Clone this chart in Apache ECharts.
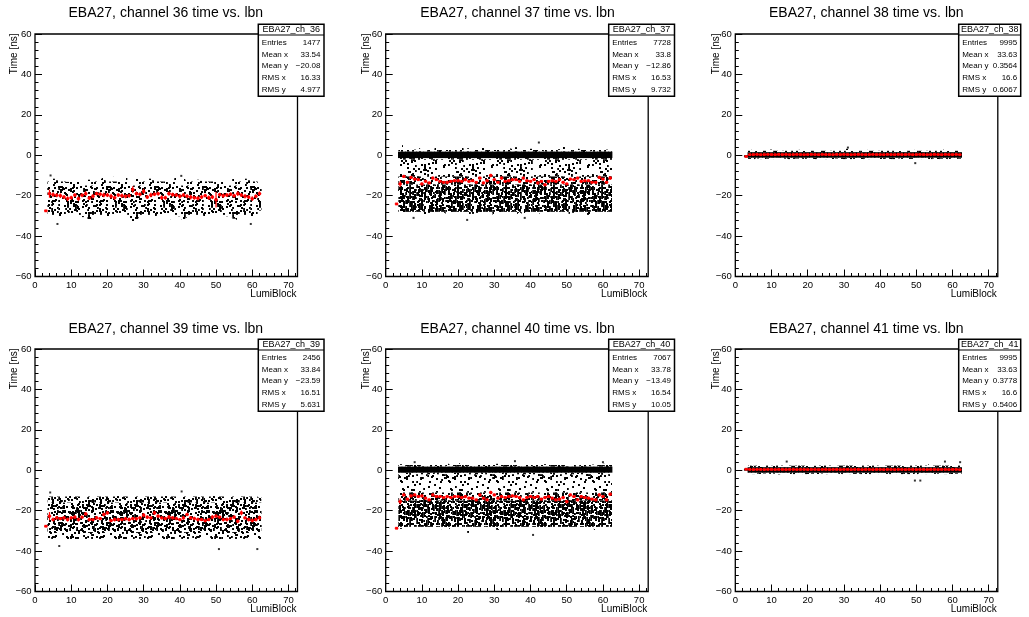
<!DOCTYPE html>
<html>
<head>
<meta charset="utf-8">
<script src="https://cdn.jsdelivr.net/npm/echarts@6.0.0/dist/echarts.min.js"></script>
<style>
  html, body { margin: 0; padding: 0; background: #fff; }
  #main { width: 1029px; height: 617px; }
</style>
</head>
<body>
<div id="main"></div>
<script>
// lumi blocks with entries
var lumiBlocks = [3, 4, 5, 6, 7, 8, 9, 10, 11, 12,
  13, 14, 15, 16, 17, 18, 19, 20, 21, 22,
  23, 24, 25, 26, 27, 28, 29, 30, 31, 32,
  33, 34, 35, 36, 37, 38, 39, 40, 41, 42,
  43, 44, 45, 46, 47, 48, 49, 50, 51, 52,
  53, 54, 55, 56, 57, 58, 59, 60, 61, 62];

var channels = [36, 37, 38, 39, 40, 41];

// ---- channel 36 ----
var ch36Mean = [-27.5, -19.0, -19.5, -19.8, -20.0, -20.7, -21.5, -21.0, -19.7, -21.5,
  -19.8, -19.0, -21.2, -20.3, -19.0, -19.3, -19.7, -19.7, -20.3, -21.0,
  -19.7, -20.0, -20.3, -20.0, -17.0, -19.0, -19.3, -17.9, -20.7, -19.7,
  -19.3, -19.0, -21.0, -21.0, -19.0, -19.5, -19.7, -20.3, -19.7, -20.3,
  -20.7, -21.0, -21.3, -20.7, -20.0, -21.0, -20.7, -22.0, -19.5, -20.0,
  -19.7, -19.3, -20.0, -19.0, -19.7, -20.3, -20.7, -21.5, -20.3, -19.0];
var ch36Err = [0, 2.0, 1.2, 1.0, 1.1, 1.0, 1.2, 1.0, 0.9, 1.1,
  1.0, 1.2, 1.0, 1.1, 0.9, 1.0, 1.1, 1.0, 1.2, 1.0,
  0.9, 1.1, 1.0, 1.0, 1.6, 1.1, 1.0, 1.3, 1.0, 1.1,
  0.9, 1.0, 1.2, 1.0, 1.1, 1.0, 0.9, 1.1, 1.0, 1.0,
  1.2, 1.0, 1.1, 1.0, 0.9, 1.1, 1.0, 3.8, 1.0, 1.1,
  1.0, 0.9, 1.0, 1.2, 1.0, 1.1, 1.0, 1.2, 1.0, 1.1];
var ch36Hi = [null, -9.9, -11.6, -12.4, -12.4, -11.6, -13.2, -11.1, -10.4, -12.4,
  -11.6, -12.7, -12.1, -11.1, -12.4, -11.6, -10.7, -12.7, -11.6, -10.7,
  -12.4, -11.6, -10.4, -12.7, -12.1, -11.1, -12.4, -10.4, -10.7, -11.6,
  -12.4, -11.1, -12.1, -11.6, -12.7, -11.6, -10.7, -9.9, -11.6, -12.4,
  -11.6, -10.7, -12.1, -12.7, -11.6, -12.4, -11.1, -12.1, -11.6, -12.4,
  -12.7, -11.6, -10.7, -10.4, -11.1, -11.6, -12.4, -10.7, -12.1, -14.9];
var ch36Lo = [null, -30.6, -33.1, -31.9, -30.6, -31.4, -31.9, -30.9, -29.8, -31.4,
  -30.6, -30.2, -31.9, -30.9, -30.6, -29.8, -30.9, -31.4, -32.6, -30.6,
  -30.2, -31.4, -30.6, -31.9, -33.1, -31.9, -30.9, -32.2, -32.7, -31.4,
  -30.6, -30.9, -30.2, -31.4, -30.9, -31.9, -30.6, -30.2, -31.9, -30.9,
  -30.6, -32.6, -31.4, -31.9, -30.9, -31.4, -30.6, -30.2, -31.4, -30.9,
  -30.2, -30.6, -31.4, -31.9, -30.9, -30.6, -33.9, -31.4, -29.8, -27.3];
var ch36Bands = [[-29.5, -13.0, 0.25], [-26.0, -15.0, 0.36]];   // [lo, hi, point density]
var ch36Out = [[4.3, -10.0], [6.2, -34.0], [40.4, -10.2], [59.6, -34.0]];

// ---- channel 37 ----
var ch37Mean = [-24.1, -14.2, -10.5, -13.4, -11.0, -11.8, -12.1, -14.2, -12.9, -13.7,
  -11.3, -12.1, -12.9, -13.4, -13.4, -12.9, -12.6, -12.6, -12.9, -12.1,
  -12.9, -12.6, -13.4, -11.3, -13.7, -12.6, -10.0, -12.1, -13.4, -11.3,
  -12.9, -12.6, -12.1, -12.1, -12.9, -11.3, -12.6, -12.9, -12.1, -13.7,
  -12.9, -14.6, -12.9, -12.6, -12.9, -12.1, -13.4, -14.2, -11.8, -12.1,
  -11.3, -12.9, -12.6, -12.6, -13.4, -13.4, -11.0, -11.8, -13.4, -11.3];
var ch37Err = [0, 1.5, 0.8, 0.7, 0.8, 0.7, 0.7, 0.8, 0.7, 0.7,
  0.8, 0.7, 0.7, 0.7, 0.8, 0.7, 0.7, 0.7, 0.7, 0.8,
  0.7, 0.7, 0.7, 0.8, 0.7, 0.7, 0.9, 0.7, 0.7, 0.8,
  0.7, 0.7, 0.7, 0.7, 0.8, 0.7, 0.7, 0.7, 0.7, 0.8,
  0.7, 0.8, 0.7, 0.7, 0.7, 0.7, 0.8, 0.7, 0.7, 0.7,
  0.7, 0.8, 0.7, 0.7, 0.7, 0.7, 0.8, 0.7, 0.7, 0.9];
var ch37Hi = [null, 3.5, 5.0, 3.0, 4.0, 2.8, 3.5, 3.0, 4.2, 3.2,
  2.8, 3.8, 3.0, 3.5, 2.8, 4.0, 3.2, 3.0, 3.8, 2.8,
  3.5, 4.5, 3.0, 3.2, 3.8, 2.8, 3.0, 4.0, 3.5, 3.0,
  2.8, 3.5, 3.2, 4.0, 3.0, 3.5, 2.8, 3.2, 3.0, 3.4,
  3.5, 3.0, 2.8, 3.8, 3.2, 3.0, 4.5, 3.0, 3.5, 2.8,
  3.2, 3.0, 3.8, 3.0, 2.8, 3.5, 3.2, 3.0, 2.8, 3.0];
var ch37Lo = [null, -28.5, -29.5, -28.0, -29.5, -29.0, -29.0, -28.0, -29.5, -28.5,
  -28.0, -29.0, -30.0, -28.5, -29.0, -28.0, -29.5, -28.5, -29.0, -28.5,
  -29.5, -29.0, -28.5, -29.5, -28.0, -29.0, -28.5, -29.5, -28.0, -29.0,
  -28.5, -29.0, -28.0, -29.5, -28.5, -29.0, -28.0, -29.0, -28.5, -29.0,
  -28.0, -29.5, -28.5, -29.0, -28.0, -28.5, -29.5, -28.0, -29.0, -28.5,
  -29.0, -28.0, -28.5, -29.5, -28.0, -29.0, -28.5, -28.0, -29.0, -28.5];
var ch37Bands = [[-28.0, -14.5, 0.9], [-14.5, -10.5, 0.45], [-10.5, -2.2, 0.16], [-2.2, -1.4, 0.45], [-1.4, 1.8, 1], [1.8, 2.6, 0.5]];
var ch37Out = [[42.3, 6.3], [7.7, -31.0], [22.5, -32.0], [38.4, -31.0]];

// ---- channel 38 ----
var ch38Mean = [-0.6, 0.3, 0.35, 0.4, 0.3, 0.35, 0.4, 0.35, 0.3, 0.4,
  0.35, 0.4, 0.3, 0.35, 0.4, 0.35, 0.3, 0.35, 0.4, 0.35,
  0.3, 0.4, 0.35, 0.35, 0.3, 0.4, 0.35, 0.4, 0.35, 0.3,
  0.35, 0.4, 0.35, 0.3, 0.35, 0.4, 0.35, 0.35, 0.3, 0.4,
  0.35, 0.3, 0.4, 0.35, 0.35, 0.4, 0.3, 0.35, 0.4, 0.35,
  0.3, 0.35, 0.4, 0.35, 0.3, 0.4, 0.35, 0.35, 0.4, 0.3];
var ch38Err = [0, 0.1, 0.1, 0.1, 0.1, 0.1, 0.1, 0.1, 0.1, 0.1,
  0.1, 0.1, 0.1, 0.1, 0.1, 0.1, 0.1, 0.1, 0.1, 0.1,
  0.1, 0.1, 0.1, 0.1, 0.1, 0.1, 0.1, 0.1, 0.1, 0.1,
  0.1, 0.1, 0.1, 0.1, 0.1, 0.1, 0.1, 0.1, 0.1, 0.1,
  0.1, 0.1, 0.1, 0.1, 0.1, 0.1, 0.1, 0.1, 0.1, 0.1,
  0.1, 0.1, 0.1, 0.1, 0.1, 0.1, 0.1, 0.1, 0.1, 0.1];
var ch38Hi = [0.0, 2.2, 2.8, 2.5, 2.2, 2.6, 2.3, 2.8, 2.4, 2.2,
  2.6, 2.9, 2.3, 2.5, 2.2, 2.7, 2.4, 2.3, 2.8, 2.5,
  2.2, 2.6, 2.4, 2.3, 2.5, 2.8, 2.2, 3.0, 3.2, 2.6,
  2.4, 2.3, 2.5, 2.2, 2.7, 2.4, 2.3, 2.6, 2.5, 2.2,
  2.8, 2.4, 2.3, 2.6, 2.5, 2.3, 2.7, 2.4, 2.2, 2.6,
  2.5, 2.3, 2.8, 2.4, 2.2, 2.9, 2.5, 2.6, 2.4, 3.0];
var ch38Lo = [-1.0, -1.8, -2.0, -1.6, -1.9, -2.2, -1.7, -1.8, -2.0, -1.6,
  -1.9, -1.7, -2.1, -1.8, -1.6, -2.0, -1.8, -1.7, -2.2, -1.9,
  -1.6, -1.8, -2.0, -1.7, -1.9, -1.6, -1.8, -2.1, -1.7, -1.9,
  -1.8, -1.6, -2.0, -1.7, -1.9, -1.8, -1.6, -2.0, -1.8, -1.7,
  -1.9, -2.1, -1.6, -1.8, -1.7, -2.0, -1.8, -1.6, -1.9, -1.7,
  -1.8, -2.0, -1.6, -1.9, -1.7, -1.8, -2.0, -1.6, -1.8, -1.7];
var ch38Bands = [[-1.9, -1.2, 0.5], [-1.2, 1.5, 1], [1.5, 2.2, 0.5]];
var ch38Out = [[31.1, 3.8], [49.7, -3.9]];

// ---- channel 39 ----
var ch39Mean = [-27.7, -22.7, -24.4, -23.55, -23.9, -23.55, -24.4, -23.55, -23.2, -24.4,
  -23.2, -21.6, -24.4, -24.4, -23.55, -23.9, -21.9, -21.1, -24.9, -24.4,
  -24.4, -24.4, -24.0, -24.4, -23.9, -24.0, -23.55, -22.2, -23.2, -23.55,
  -21.1, -22.7, -23.55, -23.9, -23.2, -23.55, -23.9, -24.4, -23.55, -21.9,
  -23.55, -23.9, -24.4, -24.4, -24.9, -24.4, -23.2, -22.7, -23.2, -24.4,
  -24.4, -23.9, -23.2, -25.2, -21.1, -23.55, -24.4, -24.9, -24.4, -23.55];
var ch39Err = [0, 2.0, 1.0, 0.9, 0.8, 0.9, 1.0, 0.8, 0.9, 1.0,
  0.8, 0.9, 1.0, 0.8, 0.9, 0.8, 1.0, 0.9, 0.8, 1.0,
  0.9, 0.8, 0.9, 1.0, 0.8, 0.9, 0.8, 1.0, 0.9, 0.8,
  1.0, 0.9, 0.8, 0.9, 1.0, 0.8, 0.9, 0.8, 1.0, 0.9,
  0.8, 0.9, 1.0, 0.8, 0.9, 0.8, 1.0, 0.9, 0.8, 0.9,
  1.0, 0.8, 0.9, 1.0, 1.2, 0.8, 0.9, 1.0, 0.9, 1.1];
var ch39Hi = [null, -10.8, -12.0, -12.5, -11.8, -13.0, -12.2, -11.5, -10.8, -12.5,
  -12.0, -11.5, -12.8, -12.2, -11.5, -12.0, -11.8, -12.5, -11.2, -12.0,
  -12.8, -11.5, -12.2, -12.0, -11.5, -12.5, -11.8, -12.2, -11.5, -12.0,
  -12.2, -11.8, -12.5, -12.0, -11.5, -12.8, -12.0, -10.5, -11.8, -12.5,
  -12.0, -11.5, -12.2, -12.8, -12.0, -11.5, -12.2, -12.0, -11.8, -12.5,
  -12.0, -11.5, -12.2, -11.0, -12.0, -11.8, -12.5, -12.0, -11.8, -13.5];
var ch39Lo = [null, -34.5, -35.5, -37.5, -36.0, -35.0, -34.5, -35.5, -36.0, -35.0,
  -34.5, -35.5, -35.0, -34.8, -36.0, -35.2, -36.5, -35.0, -34.5, -35.5,
  -35.0, -36.0, -35.5, -34.8, -35.0, -35.5, -36.0, -35.2, -34.8, -35.5,
  -36.0, -35.0, -34.5, -35.5, -35.0, -36.2, -35.5, -34.8, -35.0, -35.5,
  -36.0, -35.2, -35.0, -36.5, -35.5, -35.0, -35.8, -36.5, -36.0, -35.5,
  -35.0, -36.0, -35.5, -35.0, -36.5, -35.5, -37.0, -36.0, -36.5, -34.5];
var ch39Bands = [[-34.0, -13.0, 0.3], [-31.0, -16.0, 0.5]];
var ch39Out = [[4.2, -11.0], [6.7, -37.5], [40.5, -10.5], [50.8, -39.0], [61.4, -39.0]];

// ---- channel 40 ----
var ch40Mean = [-28.7, -15.5, -12.2, -14.3, -12.7, -12.2, -13.0, -12.7, -13.8, -14.65,
  -12.2, -13.0, -13.0, -13.5, -13.0, -13.5, -13.0, -13.0, -13.5, -13.0,
  -13.8, -13.8, -14.65, -12.2, -13.8, -14.65, -11.0, -12.2, -13.8, -13.0,
  -13.5, -13.0, -12.7, -13.0, -13.5, -14.65, -13.5, -13.0, -13.5, -13.0,
  -14.3, -13.5, -13.0, -13.8, -14.65, -14.3, -13.5, -15.5, -12.2, -13.0,
  -14.65, -13.0, -13.5, -13.8, -14.3, -14.65, -12.2, -13.0, -14.65, -11.85];
var ch40Err = [0, 1.5, 0.8, 0.7, 0.8, 0.7, 0.7, 0.8, 0.7, 0.7,
  0.8, 0.7, 0.7, 0.7, 0.8, 0.7, 0.7, 0.7, 0.7, 0.8,
  0.7, 0.7, 0.7, 0.8, 0.7, 0.7, 0.9, 0.7, 0.7, 0.8,
  0.7, 0.7, 0.7, 0.7, 0.8, 0.7, 0.7, 0.7, 0.7, 0.8,
  0.7, 0.8, 0.7, 0.7, 0.7, 0.7, 0.8, 0.9, 0.7, 0.7,
  0.7, 0.8, 0.7, 0.7, 0.7, 0.7, 0.8, 0.7, 0.7, 0.9];
var ch40Hi = [null, 3.0, 2.8, 3.5, 2.6, 3.2, 3.4, 2.8, 3.0, 2.6,
  3.4, 2.8, 3.0, 2.6, 3.2, 2.8, 3.0, 3.5, 2.6, 3.0,
  2.8, 3.2, 2.6, 3.0, 3.4, 2.8, 2.6, 3.0, 3.2, 2.8,
  3.0, 2.6, 3.4, 3.0, 2.8, 3.2, 2.6, 3.0, 2.8, 3.4,
  2.6, 3.0, 2.8, 3.2, 2.6, 3.0, 2.8, 3.4, 2.6, 3.0,
  2.8, 3.2, 2.6, 3.0, 2.8, 3.0, 3.4, 3.2, 2.8, 3.0];
var ch40Lo = [null, -29.0, -28.5, -30.0, -29.0, -28.5, -29.5, -28.0, -29.0, -30.0,
  -28.5, -29.0, -28.0, -29.5, -28.5, -29.0, -30.0, -28.5, -29.0, -28.0,
  -31.0, -29.5, -28.5, -29.0, -30.0, -28.5, -29.0, -28.0, -29.5, -28.5,
  -29.0, -28.5, -30.0, -29.0, -28.0, -29.5, -29.0, -28.5, -29.0, -28.0,
  -29.5, -28.5, -29.0, -28.0, -29.5, -28.5, -29.0, -30.0, -28.5, -29.0,
  -28.0, -29.5, -28.5, -29.0, -28.0, -29.5, -28.5, -29.0, -28.0, -28.5];
var ch40Bands = [[-28.0, -15.0, 0.9], [-15.0, -11.0, 0.45], [-11.0, -2.0, 0.16], [-2.0, -1.2, 0.45], [-1.2, 1.8, 1], [1.8, 2.6, 0.5]];
var ch40Out = [[8.0, 4.0], [35.7, 4.5], [40.7, -32.0], [60.0, 4.0]];

// ---- channel 41 ----
var ch41Mean = [0.5, 0.4, 0.35, 0.4, 0.4, 0.35, 0.4, 0.4, 0.35, 0.4,
  0.4, 0.35, 0.4, 0.4, 0.35, 0.4, 0.4, 0.35, 0.4, 0.4,
  0.35, 0.4, 0.4, 0.35, 0.4, 0.4, 0.35, 0.4, 0.4, 0.35,
  0.4, 0.4, 0.35, 0.4, 0.4, 0.35, 0.4, 0.4, 0.35, 0.4,
  0.4, 0.35, 0.4, 0.4, 0.35, 0.4, 0.4, 0.35, 0.4, 0.4,
  0.35, 0.4, 0.4, 0.35, 0.4, 0.4, 0.35, 0.4, 0.4, 0.3];
var ch41Err = ch38Err;
var ch41Hi = [0.8, 2.4, 2.2, 2.8, 2.5, 2.3, 2.6, 2.2, 2.9, 2.4,
  2.5, 2.3, 2.7, 2.2, 2.6, 2.4, 2.8, 2.3, 2.5, 2.2,
  2.6, 2.4, 2.3, 2.7, 2.5, 2.2, 2.8, 2.4, 2.3, 2.6,
  2.5, 2.2, 2.4, 2.7, 2.3, 2.5, 2.6, 2.2, 2.4, 2.8,
  2.5, 2.3, 2.6, 2.9, 2.4, 2.7, 2.5, 2.8, 2.6, 2.4,
  2.9, 2.5, 2.7, 2.6, 2.8, 2.4, 3.0, 2.6, 2.8, 3.0];
var ch41Lo = [-0.2, -1.8, -2.0, -1.7, -1.9, -1.6, -2.1, -1.8, -1.7, -2.0,
  -1.8, -1.6, -1.9, -2.0, -1.7, -1.8, -1.9, -2.6, -1.7, -1.8,
  -2.0, -1.6, -1.9, -1.8, -2.1, -1.7, -1.8, -1.9, -1.6, -2.0,
  -1.8, -1.7, -1.9, -2.0, -2.4, -1.8, -1.6, -1.9, -1.7, -1.8,
  -2.0, -1.9, -1.7, -2.2, -1.8, -2.1, -1.9, -2.0, -1.7, -1.8,
  -1.9, -2.0, -1.8, -1.7, -1.9, -2.0, -1.8, -1.9, -1.7, -1.8];
var ch41Bands = [[-1.9, -1.2, 0.5], [-1.2, 1.5, 1], [1.5, 2.3, 0.5]];
var ch41Out = [[14.2, 4.3], [49.6, -5.1], [51.1, -5.1], [57.9, 4.3], [62.1, 4.0]];

// stat box numbers
var statEntries = [1477, 7728, 9995, 2456, 7067, 9995];
var statMeanX = [33.54, 33.8, 33.63, 33.84, 33.78, 33.63];
var statMeanY = [-20.08, -12.86, 0.3564, -23.59, -13.49, 0.3778];
var statRmsX = [16.33, 16.53, 16.6, 16.51, 16.54, 16.6];
var statRmsY = [4.977, 9.732, 0.6067, 5.631, 10.05, 0.5406];

var xTicks = [0, 10, 20, 30, 40, 50, 60, 70];
var xMinorTicks = [0, 2, 4, 6, 8, 10, 12, 14, 16, 18, 20, 22, 24, 26, 28, 30, 32, 34, 36,
  38, 40, 42, 44, 46, 48, 50, 52, 54, 56, 58, 60, 62, 64, 66, 68, 70, 72];
var yTicks = [-60, -40, -20, 0, 20, 40, 60];

var meanSets = [ch36Mean, ch37Mean, ch38Mean, ch39Mean, ch40Mean, ch41Mean];
var errSets = [ch36Err, ch37Err, ch38Err, ch39Err, ch40Err, ch41Err];
var hiSets = [ch36Hi, ch37Hi, ch38Hi, ch39Hi, ch40Hi, ch41Hi];
var loSets = [ch36Lo, ch37Lo, ch38Lo, ch39Lo, ch40Lo, ch41Lo];
var bandSets = [ch36Bands, ch37Bands, ch38Bands, ch39Bands, ch40Bands, ch41Bands];
var outSets = [ch36Out, ch37Out, ch38Out, ch39Out, ch40Out, ch41Out];
var fringeDensity = 0.06;

// layout
var FONT = 'Liberation Sans, Arial, Helvetica, sans-serif';
var colLeft = [35, 385.7, 735.3];
var rowTop = [34, 349];
var frameW = 262.5, frameH = 242.5;
var yNameX = [14.7, 366.5, 716];
var boxLeft = [258.3, 608.7, 958.7];
var boxRight = [324, 674.5, 1020.7];
var boxTop = [24.3, 339.3];
var titleX = [165.8, 517.5, 866.3];
var titleY = [13.3, 329.3];

// speckle texture standing in for the individual scatter dots
var TILE = 48;
var tileCache = {};
function hash(n, s) {
  var v = Math.sin(n * 12.9898 + s * 78.233) * 43758.5453;
  return v - Math.floor(v);
}
function speckle(density) {
  if (density >= 1) return '#000';
  var key = density.toFixed(3);
  if (tileCache[key]) return tileCache[key];
  var c = document.createElement('canvas');
  c.width = TILE; c.height = TILE;
  var g = c.getContext('2d');
  g.fillStyle = '#000';
  var n = Math.round(density * TILE * TILE / 4 * 1.25);
  for (var i = 0; i < n; i++) {
    var x = Math.floor(hash(i, 1) * TILE), y = Math.floor(hash(i, 2) * TILE);
    [0, -TILE].forEach(function (dx) {
      [0, -TILE].forEach(function (dy) { g.fillRect(x + dx, y + dy, 2, 2); });
    });
  }
  tileCache[key] = { image: c, repeat: 'repeat' };
  return tileCache[key];
}

function fmt(v) {
  return v < 0 ? '\u2212' + String(-v) : String(v);
}

function cloudData(hi, lo, bands) {
  var out = [];
  lumiBlocks.forEach(function (lb, i) {
    if (hi[i] == null) return;
    out.push([lb, lo[i], hi[i], fringeDensity]);
    bands.forEach(function (b) {
      var a = Math.max(b[0], lo[i]), z = Math.min(b[1], hi[i]);
      if (z > a) out.push([lb, a, z, b[2]]);
    });
  });
  return out;
}

function renderCloud(params, api) {
  var lb = api.value(0), lo = api.value(1), hi = api.value(2), d = api.value(3);
  var p0 = api.coord([lb - 0.5, hi]);
  var p1 = api.coord([lb + 0.5, lo]);
  var pad = d >= 1 ? 0.4 : 0;
  return {
    type: 'rect',
    shape: { x: p0[0] - pad, y: p0[1], width: p1[0] - p0[0] + 2 * pad, height: p1[1] - p0[1] },
    style: { fill: speckle(d) },
    z2: Math.round(d * 100)
  };
}

function renderProfile(params, api) {
  var lb = api.value(0), m = api.value(1), e = api.value(2);
  var a = api.coord([lb - 0.5, m]), b = api.coord([lb + 0.5, m]);
  var t = api.coord([lb, m + e]), u = api.coord([lb, m - e]);
  var c = api.coord([lb, m]);
  var red = '#ff0000';
  return {
    type: 'group',
    children: [
      { type: 'line', shape: { x1: a[0], y1: a[1], x2: b[0], y2: b[1] }, style: { stroke: red, lineWidth: 1.2 } },
      { type: 'line', shape: { x1: t[0], y1: t[1], x2: u[0], y2: u[1] }, style: { stroke: red, lineWidth: 1.2 } },
      { type: 'rect', shape: { x: c[0] - 1.4, y: c[1] - 1.4, width: 2.8, height: 2.8 }, style: { fill: red } }
    ]
  };
}

var grids = [], xAxes = [], yAxes = [], series = [], graphics = [];
var tickStyle = { color: '#000', width: 1 };

channels.forEach(function (ch, p) {
  var col = p % 3, row = Math.floor(p / 3);
  var L = colLeft[col], T = rowTop[row];

  grids.push({ left: L, top: T, width: frameW, height: frameH, show: true,
    borderColor: '#000', borderWidth: 1.3, backgroundColor: 'transparent' });

  // major x axis with labels
  xAxes.push({
    type: 'value', gridIndex: p, min: 0, max: 72.5, interval: 10, position: 'bottom',
    axisLine: { show: false, onZero: false },
    axisTick: { show: true, inside: true, length: 7, lineStyle: tickStyle, customValues: xTicks },
    axisLabel: { show: true, showMaxLabel: false, margin: 4, fontSize: 9.5, color: '#000', fontFamily: FONT,
      formatter: function (v) { return xTicks.indexOf(v) >= 0 ? fmt(v) : ''; } },
    splitLine: { show: false }
  });
  // minor x ticks
  xAxes.push({
    type: 'value', gridIndex: p, min: 0, max: 72.5, interval: 2, position: 'bottom',
    axisLine: { show: false, onZero: false },
    axisTick: { show: true, inside: true, length: 3.5, lineStyle: tickStyle, customValues: xMinorTicks },
    axisLabel: { show: false },
    splitLine: { show: false }
  });
  yAxes.push({
    type: 'value', gridIndex: p, min: -60, max: 60, interval: 20, position: 'left',
    axisLine: { show: false, onZero: false },
    axisTick: { show: true, inside: true, length: 7, lineStyle: tickStyle },
    minorTick: { show: true, splitNumber: 5, length: 3.5, lineStyle: tickStyle },
    axisLabel: { show: true, margin: 3.5, fontSize: 9.5, color: '#000', fontFamily: FONT,
      formatter: function (v) { return yTicks.indexOf(v) >= 0 ? fmt(v) : ''; } },
    splitLine: { show: false }
  });

  series.push({
    type: 'custom', name: 'cloud' + ch, xAxisIndex: 2 * p, yAxisIndex: p,
    renderItem: renderCloud, data: cloudData(hiSets[p], loSets[p], bandSets[p]),
    silent: true, z: 2
  });
  series.push({
    type: 'scatter', name: 'outliers' + ch, xAxisIndex: 2 * p, yAxisIndex: p,
    data: outSets[p], symbol: 'rect', symbolSize: 2, itemStyle: { color: '#000' },
    silent: true, z: 3
  });
  series.push({
    type: 'custom', name: 'profile' + ch, xAxisIndex: 2 * p, yAxisIndex: p,
    renderItem: renderProfile,
    data: lumiBlocks.map(function (lb, i) { return [lb, meanSets[p][i], errSets[p][i]]; }),
    silent: true, z: 5
  });

  // title
  graphics.push({ type: 'text', x: titleX[col], y: titleY[row], z: 100,
    style: { text: 'EBA27, channel ' + ch + ' time vs. lbn', fontSize: 14, fontFamily: FONT,
      fill: '#000', align: 'center', verticalAlign: 'middle' } });
  // axis titles
  graphics.push({ type: 'text', x: yNameX[col], y: T - 0.5, rotation: Math.PI / 2, z: 100,
    style: { text: 'Time [ns]', fontSize: 10, fontFamily: FONT, fill: '#000', align: 'right', verticalAlign: 'middle' } });
  graphics.push({ type: 'text', x: L + frameW - 1, y: T + frameH + 18, z: 100,
    style: { text: 'LumiBlock', fontSize: 10, fontFamily: FONT, fill: '#000', align: 'right', verticalAlign: 'middle' } });

  // stat box
  var bl = boxLeft[col], br = boxRight[col], bt = boxTop[row], bh = 72;
  graphics.push({ type: 'rect', z: 100, shape: { x: bl, y: bt, width: br - bl, height: bh },
    style: { fill: '#fff', stroke: '#000', lineWidth: 1.5 } });
  graphics.push({ type: 'line', z: 101, shape: { x1: bl, y1: bt + 10.7, x2: br, y2: bt + 10.7 },
    style: { stroke: '#000', lineWidth: 1 } });
  graphics.push({ type: 'text', z: 101, x: (bl + br) / 2, y: bt + 5.4,
    style: { text: 'EBA27_ch_' + ch, fontSize: 9, fontFamily: FONT, fill: '#000', align: 'center', verticalAlign: 'middle' } });
  var labels = ['Entries', 'Mean x', 'Mean y', 'RMS x', 'RMS y'];
  var vals = [statEntries[p], statMeanX[p], statMeanY[p], statRmsX[p], statRmsY[p]];
  labels.forEach(function (lab, k) {
    var yy = bt + 18.2 + 11.8 * k;
    graphics.push({ type: 'text', z: 101, x: bl + 3.5, y: yy,
      style: { text: lab, fontSize: 8, fontFamily: FONT, fill: '#000', align: 'left', verticalAlign: 'middle' } });
    graphics.push({ type: 'text', z: 101, x: br - 3.5, y: yy,
      style: { text: fmt(vals[k]), fontSize: 8, fontFamily: FONT, fill: '#000', align: 'right', verticalAlign: 'middle' } });
  });
});

var chart = echarts.init(document.getElementById('main'), null, { renderer: 'canvas' });
chart.setOption({
  backgroundColor: '#fff',
  animation: false,
  grid: grids,
  xAxis: xAxes,
  yAxis: yAxes,
  series: series,
  graphic: graphics
});
</script>
</body>
</html>
